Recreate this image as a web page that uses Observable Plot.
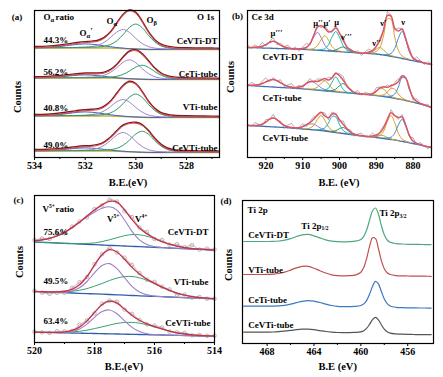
<!DOCTYPE html>
<html>
<head>
<meta charset="utf-8">
<script src="https://cdn.jsdelivr.net/npm/d3@7"></script>
<script src="https://cdn.jsdelivr.net/npm/@observablehq/plot@0.6"></script>
<style>
  html, body { margin: 0; padding: 0; background: #fff; }
  #fig { position: relative; width: 443px; height: 377px; overflow: hidden; background: #fff;
         font-family: "Liberation Serif", "Times New Roman", serif; font-weight: bold; color: #000; }
  .panel { position: absolute; }
  .panel svg { overflow: visible; display: block; }
  .lbl { position: absolute; white-space: nowrap; transform: translate(-50%, -50%); line-height: 1; }
  .rot { transform: translate(-50%, -50%) rotate(-90deg); }
</style>
</head>
<body>
<div id="fig"></div>
<script>
const FONT = '"Liberation Serif", "Times New Roman", serif';

/* ===== (a) O 1s ===== */
const aEV = [534, 533.5, 533, 532.5, 532.25, 532, 531.75, 531.5, 531.25, 531, 530.75, 530.5, 530.25, 530, 529.75, 529.5, 529.25, 529, 528.75, 528.5, 528, 527.5, 527, 526.7];
const aSamples = ["CeVTi-DT", "CeTi-tube", "VTi-tube", "CeVTi-tube"];
const aRatios = ["44.3%", "56.2%", "40.8%", "49.0%"];
const aTicks = [534, 532, 530, 528];
const aMinorTicks = [533, 531, 529, 527];
const aBackground = [1.6,1.6,1.6,1.6,1.6,1.6,1.6,1.55,1.5,1.4,1.25,1.0,0.7,0.45,0.25,0.12,0.05,0,0,0,0,0,0,0];
const oAlphaDT = [0.2,0.2,0.3,0.4,0.6,0.8,1.3,2.7,5.7,10.6,16.3,19,16.3,10.6,5.7,2.7,1.3,0.8,0.6,0.4,0.3,0.2,0.2,0.1];
const oBetaDT = [0.15,0.2,0.25,0.35,0.4,0.5,0.75,1.0,1.75,3.5,7.5,14,21.5,25,21.5,14,7.5,3.5,1.75,1.0,0.5,0.35,0.25,0.2];
const oAlphaPrimeDT = [0.05,0.35,1.36,3.0,3.7,4,3.7,3.0,2.2,1.36,0.7,0.35,0.15,0.05,0,0,0,0,0,0,0,0,0,0];
const oAlphaCeTi = [0.13,0.17,0.23,0.33,0.4,0.6,0.8,1.3,2.7,5.7,10.6,16.3,19,16.3,10.6,5.7,2.7,1.3,0.8,0.6,0.4,0.25,0.2,0.15];
const oBetaCeTi = [0.08,0.1,0.12,0.17,0.2,0.24,0.28,0.42,0.56,1.0,2.0,4.2,7.8,12,14,12,7.8,4.2,2.0,1.0,0.42,0.28,0.2,0.15];
const oAlphaPrimeCeTi = [0.04,0.26,1.0,2.25,2.8,3,2.8,2.25,1.65,1.0,0.5,0.26,0.1,0.04,0,0,0,0,0,0,0,0,0,0];
const oAlphaVTi = [0.14,0.17,0.24,0.34,0.5,0.7,1.2,2.4,5.1,9.5,14.6,17,14.6,9.5,5.1,2.4,1.2,0.7,0.5,0.34,0.24,0.17,0.14,0.12];
const oBetaVTi = [0.14,0.18,0.23,0.32,0.38,0.46,0.7,0.9,1.6,3.2,6.9,12.9,19.8,23,19.8,12.9,6.9,3.2,1.6,0.9,0.46,0.32,0.23,0.18];
const oAlphaPrimeVTi = [0.05,0.35,1.36,3.0,3.7,4,3.7,3.0,2.2,1.36,0.7,0.35,0.15,0.05,0,0,0,0,0,0,0,0,0,0];
const oAlphaCeVTi = [0.2,0.2,0.3,0.4,0.6,0.8,1.3,2.7,5.7,10.6,16.3,19,16.3,10.6,5.7,2.7,1.3,0.8,0.6,0.4,0.3,0.2,0.2,0.1];
const oBetaCeVTi = [0.12,0.15,0.19,0.25,0.3,0.36,0.42,0.63,0.84,1.5,2.9,6.3,11.8,18.1,21,18.1,11.8,6.3,2.9,1.5,0.63,0.42,0.3,0.25];
const oAlphaPrimeCeVTi = [0.04,0.26,1.0,2.25,2.8,3,2.8,2.25,1.65,1.0,0.5,0.26,0.1,0.04,0,0,0,0,0,0,0,0,0,0];

/* ===== (b) Ce 3d ===== */
const bEV = [925,924,923,922,921,920,919,918,917,916,915,914,913,912,911,910,909,908,907,906,905,904,903,902,901,900,899,898,897,896,895,894,893,892,891,890,889,888,887,886,885,884,883,882,881,880,879,878,877,876,875];
const bSamples = ["CeVTi-DT", "CeTi-tube", "CeVTi-tube"];
const bTicks = [920, 910, 900, 890, 880];
const bMinorTicks = [915, 905, 895, 885];
const bPeakNames = ["μ′′′", "μ′′", "μ′", "μ", "ν′′′", "ν′′", "ν′", "ν"];
const bBackgroundDT = [110,109.9,109.8,109.6,109.5,109.4,109.3,109.2,109.0,108.9,108.8,108.7,108.6,108.4,108.3,108.2,108.0,107.7,107.5,107.2,107.0,106.8,106.5,106.3,106.0,105.8,105.6,105.3,105.1,104.9,104.6,104.4,104.2,104.0,103.7,103.5,103.0,102.4,101.8,101.2,100.6,99.8,99.0,98.3,97.5,96.8,96.0,95.3,94.5,93.8,93.0];
const bBackgroundCeTi = [72.0,71.8,71.6,71.3,71.1,70.9,70.7,70.5,70.2,70.0,69.8,69.6,69.4,69.1,68.9,68.7,68.4,68.0,67.7,67.3,67.0,66.7,66.3,66.0,65.6,65.3,65.0,64.6,64.3,64.0,63.7,63.3,63.0,62.7,62.3,62.0,61.5,61.0,60.4,59.8,59.2,58.5,57.8,57.0,56.2,55.3,54.3,53.3,52.3,51.3,50.3];
const bBackgroundCeVTi = [32.0,31.8,31.6,31.4,31.2,31.0,30.8,30.6,30.4,30.2,30.0,29.7,29.4,29.1,28.8,28.5,28.2,27.9,27.6,27.3,27.0,26.5,26.0,25.5,25.0,24.5,24.0,23.5,23.0,22.5,22.0,21.6,21.2,20.8,20.4,20.0,19.5,19.0,18.5,18.0,17.5,16.8,16.1,15.4,14.7,14.0,13.2,12.4,11.6,10.8,10.0];
const ce3dDT = [
  {peak: "u3", from: 924, vals: [0.2,0.35,0.7,1.7,3.5,5.8,7,5.8,3.5,1.7,0.7,0.35,0.2]},
  {peak: "u2", from: 911, vals: [0.45,0.75,1.8,5.6,13,18,13,5.6,1.8,0.75,0.45]},
  {peak: "u1", from: 909, vals: [0.38,0.63,1.5,4.65,10.8,15,10.8,4.65,1.5,0.63,0.38]},
  {peak: "u0", from: 906, vals: [0.5,0.85,2,6.2,14.4,20,14.4,6.2,2,0.85,0.5]},
  {peak: "v3", from: 903, vals: [0.2,0.5,1.55,3.6,5,3.6,1.55,0.5,0.2]},
  {peak: "v2", from: 893, vals: [0.3,0.7,2.2,5,7,5,2.2,0.7,0.3]},
  {peak: "v1", from: 892, vals: [0.8,1.2,2.5,7.2,20,36.8,36.8,20,7.2,2.5,1.2,0.8]},
  {peak: "v0", from: 888, vals: [0.7,1.1,2.7,8.4,19.4,27,19.4,8.4,2.7,1.1,0.7]}
];
const ce3dCeTi = [
  {peak: "u3", from: 925, vals: [0.27,0.4,0.75,1.5,2.85,4.7,6.6,7.5,6.6,4.7,2.85,1.5,0.75,0.4,0.27]},
  {peak: "u2", from: 913, vals: [0.3,0.55,1.3,2.85,5.4,7.6,7.6,5.4,2.85,1.3,0.55,0.3]},
  {peak: "u1", from: 909, vals: [0.25,0.42,1.0,3.1,7.2,10,7.2,3.1,1.0,0.42,0.25]},
  {peak: "u0", from: 906, vals: [0.27,0.4,0.85,3.0,9.5,15,9.5,3.0,0.85,0.4,0.27]},
  {peak: "v3", from: 904, vals: [0.2,0.4,0.9,2.8,6.5,9,6.5,2.8,0.9,0.4,0.2]},
  {peak: "v2", from: 894, vals: [0.17,0.25,0.5,1.45,4,7.4,7.4,4,1.45,0.5,0.25,0.17]},
  {peak: "v1", from: 891, vals: [0.21,0.31,0.63,1.8,5,9.2,9.2,5,1.8,0.63,0.31,0.21]},
  {peak: "v0", from: 888, vals: [0.5,0.75,1.5,4.3,12,22,22,12,4.3,1.5,0.75,0.5]}
];
const ce3dCeVTi = [
  {peak: "u3", from: 924, vals: [0.27,0.45,0.9,2.2,4.5,7.5,9,7.5,4.5,2.2,0.9,0.45,0.27]},
  {peak: "u2", from: 913, vals: [0.24,0.42,0.96,2.1,4,5.7,5.7,4,2.1,0.96,0.42,0.24]},
  {peak: "u1", from: 910, vals: [0.38,0.63,1.5,4.65,10.8,15,10.8,4.65,1.5,0.63,0.38]},
  {peak: "u0", from: 907, vals: [0.36,0.53,1.1,3.1,8.5,15.6,15.6,8.5,3.1,1.1,0.53,0.36]},
  {peak: "v3", from: 904, vals: [0.15,0.25,0.6,1.9,4.3,6,4.3,1.9,0.6,0.25,0.15]},
  {peak: "v2", from: 893, vals: [0.09,0.19,0.54,1.5,2.8,2.8,1.5,0.54,0.19,0.09]},
  {peak: "v1", from: 891, vals: [0.6,1.0,2.4,7.4,17.3,24,17.3,7.4,2.4,1.0,0.6]},
  {peak: "v0", from: 888, vals: [0.55,0.92,2.2,6.8,15.8,22,15.8,6.8,2.2,0.92,0.55]}
];
const rawDevDT = [3,-1,2.5,0,4,-1.5,1,3.5,-2,2,0.5,3,-1,2,-2.5,1.5,4,-1,0.5,2.5,-2,3,1,-1.5,2.5,0,3.5,-2,1,-1,2,-2.5,1.5,3,-1,0.5,2.5,-1.5,4,1,-2,3,0.5,-1,2.5,-2,3.5,1,-1.5,2,0.5];
const rawDevCeTi = [-1,3,1,-2,2.5,4,-1.5,2,0,3,-2,1.5,3.5,-1,2,-2,0.5,3,-1.5,2.5,1,-2.5,3,0,-1,2,4,-2,1.5,-0.5,3,-1.5,2,0.5,-2,3.5,1,-1,2.5,-2,1.5,3,-1.5,0.5,2.5,-2.5,3,0,-1,2,-1.5];
const rawDevCeVTi = [2,-1.5,3,1,-2,2.5,0,3.5,-1,1.5,-2.5,2,4,-1,0.5,3,-2,1,2.5,-1.5,0,3,-2,2,1,-1.5,3.5,-0.5,2,-2,1.5,2.5,-1,0,3,-2,1,2,-1.5,3,0.5,-2,2.5,1,-1,3.5,-1.5,2,0,-2,1.5];

/* ===== (c) V 2p ===== */
const cEV = [520,519.75,519.5,519.25,519,518.75,518.5,518.25,518,517.75,517.5,517.25,517,516.75,516.5,516.25,516,515.75,515.5,515.25,515,514.75,514.5,514.25,514];
const cSamples = ["CeVTi-DT", "VTi-tube", "CeVTi-tube"];
const cRatios = ["75.6%", "49.5%", "63.4%"];
const cTicks = [520, 518, 516, 514];
const cMinorTicks = [519, 517, 515];
const v5DT = [1.3,2.4,4.3,7.0,10.9,15.9,21.6,27.5,32.8,36.7,38.5,35.6,26,15,6.8,2.4,0.7,0.15,0.05,0,0,0,0,0,0];
const v4DT = [0,0,0,0.02,0.05,0.15,0.4,0.9,1.8,3.4,5.5,8.0,10.3,11.7,11.9,10.7,8.5,6.0,3.8,2.1,1.0,0.45,0.17,0.05,0];
const cBackgroundDT = [100.5,100.2,99.8,99.5,99.2,98.8,98.5,98.2,97.8,97.5,97.2,96.8,96.5,96.2,95.8,95.5,95.2,94.8,94.5,94.2,93.8,93.5,93.2,92.8,92.5];
const v5VTi = [0,0,0.02,0.12,0.54,2.0,5.5,12.1,21.0,28.7,30.9,26.1,17.4,9.1,3.7,1.2,0.31,0.06,0,0,0,0,0,0,0];
const v4VTi = [0.03,0.08,0.19,0.44,0.91,1.7,3.0,5.0,7.7,10.7,14.0,16.7,18.5,19,18,15.7,12.7,9.5,6.6,4.2,2.5,1.3,0.67,0.31,0.13];
const cBackgroundVTi = [51.0,50.7,50.4,50.1,49.8,49.5,49.2,48.9,48.6,48.3,48.0,47.7,47.4,47.0,46.7,46.4,46.1,45.8,45.5,45.2,44.9,44.6,44.3,44.0,43.7];
const v5CeVTi = [0,0,0.02,0.09,0.42,1.5,4.2,9.3,16.2,22.2,23.9,20.2,13.4,7.0,2.9,0.94,0.24,0.05,0,0,0,0,0,0,0];
const v4CeVTi = [0.02,0.05,0.12,0.28,0.58,1.1,1.9,3.2,4.9,6.8,8.8,10.6,11.7,12,11.3,9.9,8.0,6.0,4.1,2.6,1.6,0.84,0.42,0.2,0.08];
const cBackgroundCeVTi = [10.3,10.1,10.0,9.8,9.6,9.5,9.3,9.1,9.0,8.8,8.6,8.5,8.3,8.1,8.0,7.8,7.6,7.5,7.3,7.1,7.0,6.8,6.6,6.5,6.3];
const cRawDevDT = [0.5,1.5,-0.5,2.0,-1.0,1.0,0.5,-1.5,1.0,-0.5,1.5,0.5,-1.5,2.5,0.5,2.0,-1.0,1.5,-0.5,2.0,0.5,3.5,-0.5,1.0,0.5];
const cRawDevVTi = [0.5,-1.0,-2.0,-1.0,-1.5,1.5,2.5,-0.5,1.0,0.5,1.5,-0.5,1.5,2.5,1.0,-0.5,1.5,0.5,1.0,-1.5,0.5,-1.0,0.5,-0.5,0];
const cRawDevCeVTi = [0.5,0,-0.5,1.0,0.5,-0.5,2.5,0.5,-1.0,1.0,0.5,1.5,-0.5,1.5,0.5,-0.5,1.0,1.5,-0.5,0.5,1.0,-0.5,0.5,0,0.5];

/* ===== (d) Ti 2p ===== */
const dEV = [470,469.5,469,468.5,468,467.5,467,466.5,466,465.5,465,464.5,464,463.5,463,462.5,462,461.5,461,460.5,460,459.75,459.5,459.25,459,458.75,458.5,458.25,458,457.75,457.5,457,456.5,456,455.5,455,454.5,454];
const dSamples = ["CeVTi-DT", "VTi-tube", "CeTi-tube", "CeVTi-tube"];
const dTicks = [468, 464, 460, 456];
const dMinorTicks = [466, 462, 458];
const ti2pDT = [102.0,102.0,102.0,102.0,102.0,102.1,102.5,103.3,104.9,107.0,108.7,109.1,107.7,105.6,103.6,102.4,101.8,101.7,101.9,102.3,104.1,107.2,113.7,123.6,132.8,135.5,129.3,117.9,108.7,103.5,101.2,99.9,99.5,99.2,99.1,99.1,98.9,98.9];
const ti2pVTi = [69.0,69.0,69.0,69.0,69.1,69.4,70.0,71.4,73.4,75.6,77.2,77.1,75.3,72.8,70.5,68.7,67.8,67.7,67.8,68.4,71.3,76.1,85.2,97.4,105.8,104.9,94.9,83.0,74.8,70.7,69.0,67.9,67.6,67.5,67.4,67.3,67.3,67.2];
const ti2pCeTi = [37.3,37.3,37.3,37.3,37.3,37.4,37.6,38.2,39.3,40.8,42.2,42.8,42.3,41.0,39.4,38.0,37.2,36.9,36.9,37.1,38.0,39.6,43.1,49.5,57.2,62.2,59.6,52.0,44.6,39.8,37.5,36.2,35.9,35.7,35.6,35.5,35.5,35.4];
const ti2pCeVTi = [11.3,11.3,11.3,11.3,11.4,11.5,11.8,12.4,13.1,13.9,14.4,14.4,13.8,12.9,12.0,11.4,11.0,10.9,10.9,11.1,11.7,12.8,15.3,19.3,23.9,26.1,23.6,18.7,14.4,11.7,10.4,9.6,9.3,9.1,9.0,8.9,8.9,8.8];

/* ===== helpers ===== */
const fig = document.getElementById("fig");
function place(node, left, top) {
  const d = document.createElement("div");
  d.className = "panel"; d.style.left = left + "px"; d.style.top = top + "px";
  d.appendChild(node); fig.appendChild(d);
}
function htmlLabel(text, cx, cy, size, rotate) {
  const d = document.createElement("div");
  d.className = "lbl" + (rotate ? " rot" : "");
  d.style.left = cx + "px"; d.style.top = cy + "px"; d.style.fontSize = size + "px";
  d.textContent = text; fig.appendChild(d);
}
const line = (xs, ys, opts) => Plot.line(xs.map((x, i) => ({x, y: ys[i]})), {x: "x", y: "y", curve: "catmull-rom", ...opts});
const txt = (x, y, text, opts = {}) => Plot.text([{x, y, text}], {x: "x", y: "y", text: "text", fontSize: 9, fontWeight: "bold", ...opts});
function panel({width, height, margin, xDomain, yDomain, ticks, minor, marks}) {
  return Plot.plot({
    width, height,
    marginTop: margin[0], marginRight: margin[1], marginBottom: margin[2], marginLeft: margin[3],
    x: {domain: xDomain},
    y: {domain: yDomain, axis: null},
    style: {fontFamily: FONT, fontSize: "10px", fontWeight: "bold", background: "transparent", overflow: "visible", color: "#000"},
    marks: [
      ...marks,
      Plot.frame({stroke: "#000", strokeWidth: 1.2}),
      Plot.axisX({ticks, tickSize: 3, tickPadding: 1, label: null, fontSize: 10, fontWeight: "bold", tickFormat: d => String(d)}),
      Plot.axisX({ticks: minor, tickSize: 2, tickFormat: () => "", label: null})
    ]
  });
}

/* ===== panel (a) ===== */
{
  const series = [
    {oa: oAlphaDT, ob: oBetaDT, oap: oAlphaPrimeDT},
    {oa: oAlphaCeTi, ob: oBetaCeTi, oap: oAlphaPrimeCeTi},
    {oa: oAlphaVTi, ob: oBetaVTi, oap: oAlphaPrimeVTi},
    {oa: oAlphaCeVTi, ob: oBetaCeVTi, oap: oAlphaPrimeCeVTi}
  ];
  const stack = [108, 78, 40, 5];
  const sampleY = [116, 83, 50, 9];
  const ratioY = [117, 85, 49, 12];
  const marks = [];
  series.forEach((s, k) => {
    const base = aBackground.map(b => stack[k] + b);
    const env = base.map((b, i) => b + s.oa[i] + s.ob[i] + s.oap[i]);
    marks.push(
      line(aEV, base, {stroke: "#c9b03a", strokeWidth: 1.5}),
      line(aEV, base.map((b, i) => b + s.oap[i]), {stroke: "#3e62c4", strokeWidth: 1}),
      line(aEV, base.map((b, i) => b + s.oa[i]), {stroke: "#a283c8", strokeWidth: 1}),
      line(aEV, base.map((b, i) => b + s.ob[i]), {stroke: "#2e9a66", strokeWidth: 1}),
      line(aEV, env, {stroke: "#7a2020", strokeWidth: 1.4, dy: -1}),
      line(aEV, env, {stroke: "#e0434c", strokeWidth: 1})
    );
    marks.push(txt(526.78, sampleY[k], aSamples[k], {textAnchor: "end"}));
    marks.push(txt(533.645, ratioY[k], aRatios[k], {textAnchor: "start"}));
  });
  marks.push(
    txt(533.645, 140, "O", {textAnchor: "start"}),
    txt(533.37, 140, "α", {textAnchor: "start", fontSize: 6.5, dy: 2.5}),
    txt(533.17, 140, "ratio", {textAnchor: "start"}),
    txt(530.88, 136, "O", {textAnchor: "end"}),
    txt(530.88, 136, "α", {textAnchor: "start", fontSize: 6.5, dy: 2.5}),
    txt(529.30, 137, "O", {textAnchor: "end"}),
    txt(529.30, 137, "β", {textAnchor: "start", fontSize: 6.5, dy: 2.5}),
    txt(531.95, 124, "O", {textAnchor: "end"}),
    txt(531.95, 124, "α", {textAnchor: "start", fontSize: 6.5, dy: 2.5}),
    txt(531.79, 124, "′", {textAnchor: "start", fontSize: 8, dy: -2}),
    txt(527.25, 140, "O 1s", {textAnchor: "middle"})
  );
  place(panel({width: 221, height: 190, margin: [10, 2, 33, 34], xDomain: [534, 526.7], yDomain: [0, 147], ticks: aTicks, minor: aMinorTicks, marks}), 0, 0);
}

/* ===== panel (b) ===== */
{
  const colors = {u3: "#8c7a36", u2: "#9f7bc6", u1: "#d6a21e", u0: "#1fb3b8", v3: "#2f8f6f", v2: "#c4a52a", v1: "#e09a28", v0: "#3a8fd0"};
  const series = [
    {bg: bBackgroundDT, comps: ce3dDT, dev: rawDevDT},
    {bg: bBackgroundCeTi, comps: ce3dCeTi, dev: rawDevCeTi},
    {bg: bBackgroundCeVTi, comps: ce3dCeVTi, dev: rawDevCeVTi}
  ];
  const sampleY = [100, 59, 19];
  const marks = [];
  series.forEach((s, k) => {
    const env = s.bg.slice();
    const compMarks = [];
    s.comps.forEach(c => {
      const xs = [], ys = [];
      c.vals.forEach((v, j) => {
        const ev = c.from - j;
        const i = bEV.indexOf(ev);
        if (i < 0) return;
        env[i] += v;
        xs.push(ev); ys.push(s.bg[i] + v);
      });
      compMarks.push(line(xs, ys, {stroke: colors[c.peak], strokeWidth: 1}));
    });
    const raw = env.map((e, i) => e + s.dev[i]);
    marks.push(
      line(bEV, s.bg, {stroke: "#4470b0", strokeWidth: 1.3}),
      ...compMarks,
      line(bEV, raw, {stroke: "#8f8f8f", strokeWidth: 0.7, curve: "linear"}),
      line(bEV, env, {stroke: "#e05565", strokeWidth: 1.5}),
      txt(920.9, sampleY[k], bSamples[k], {textAnchor: "start"})
    );
  });
  const peakLabelX = [917.1, 905.8, 903.4, 900.8, 898.1, 889.9, 888.1, 882.7];
  const peakLabelY = [124, 134, 134, 135.7, 120.7, 114, 134, 135.7];
  bPeakNames.forEach((n, j) => marks.push(txt(peakLabelX[j], peakLabelY[j], n, {textAnchor: "middle", fontSize: 8.5})));
  marks.push(txt(923.9, 140.7, "Ce 3d", {textAnchor: "start"}));
  place(panel({width: 222, height: 190, margin: [10, 12, 33, 26], xDomain: [925, 875], yDomain: [0, 147], ticks: bTicks, minor: bMinorTicks, marks}), 221, 0);
}

/* ===== panel (c) ===== */
{
  const series = [
    {bg: cBackgroundDT, v5: v5DT, v4: v4DT, dev: cRawDevDT},
    {bg: cBackgroundVTi, v5: v5VTi, v4: v4VTi, dev: cRawDevVTi},
    {bg: cBackgroundCeVTi, v5: v5CeVTi, v4: v4CeVTi, dev: cRawDevCeVTi}
  ];
  const sampleY = [110.3, 60.3, 19.3];
  const sampleX = [514.2, 514.2, 514.13];
  const ratioY = [110.3, 61.3, 21];
  const marks = [];
  series.forEach((s, k) => {
    const env = s.bg.map((b, i) => b + s.v5[i] + s.v4[i]);
    const raw = env.map((e, i) => e + s.dev[i]);
    marks.push(
      line(cEV, s.bg, {stroke: "#2f5fa8", strokeWidth: 1.3}),
      line(cEV, s.bg.map((b, i) => b + s.v4[i]), {stroke: "#3aa070", strokeWidth: 1}),
      line(cEV, s.bg.map((b, i) => b + s.v5[i]), {stroke: "#9a80c4", strokeWidth: 1.1}),
      line(cEV, raw, {stroke: "#a89a9a", strokeWidth: 0.7}),
      Plot.dot(cEV.map((x, i) => ({x, y: raw[i]})), {x: "x", y: "y", r: 1.8, stroke: "#a89a9a", strokeWidth: 0.7, fill: "none"}),
      line(cEV, env, {stroke: "#c8304a", strokeWidth: 1.3}),
      txt(sampleX[k], sampleY[k], cSamples[k], {textAnchor: "end"}),
      txt(519.7, ratioY[k], cRatios[k], {textAnchor: "start"})
    );
  });
  marks.push(
    txt(519.733, 133.7, "V", {textAnchor: "start"}),
    txt(519.52, 133.7, "5+", {textAnchor: "start", fontSize: 5.5, dy: -3}),
    txt(519.30, 133.7, "ratio", {textAnchor: "start"}),
    txt(517.367, 123.7, "V", {textAnchor: "end"}),
    txt(517.367, 123.7, "5+", {textAnchor: "start", fontSize: 5.5, dy: -3}),
    txt(516.433, 123.7, "V", {textAnchor: "end"}),
    txt(516.433, 123.7, "4+", {textAnchor: "start", fontSize: 5.5, dy: -3})
  );
  place(panel({width: 221, height: 189, margin: [7, 7, 35, 34], xDomain: [520, 514], yDomain: [0, 147], ticks: cTicks, minor: cMinorTicks, marks}), 0, 188);
}

/* ===== panel (d) ===== */
{
  const series = [ti2pDT, ti2pVTi, ti2pCeTi, ti2pCeVTi];
  const colors = ["#4fa87f", "#c0504d", "#3d79c0", "#555555"];
  const sampleY = [108, 73, 43, 18.7];
  const marks = [];
  series.forEach((s, k) => {
    marks.push(
      line(dEV, s, {stroke: colors[k], strokeWidth: 1.2}),
      txt(469.61, sampleY[k], dSamples[k], {textAnchor: "start"})
    );
  });
  marks.push(
    txt(469.67, 133, "Ti 2p", {textAnchor: "start"}),
    txt(463.36, 117.3, "Ti 2p", {textAnchor: "end"}),
    txt(463.36, 117.3, "1/2", {textAnchor: "start", fontSize: 5.5, dy: 2.5}),
    txt(456.70, 130, "Ti 2p", {textAnchor: "end"}),
    txt(456.70, 130, "3/2", {textAnchor: "start", fontSize: 5.5, dy: 2.5})
  );
  place(panel({width: 222, height: 189, margin: [12, 10, 34, 21], xDomain: [470.1, 453.8], yDomain: [0, 143], ticks: dTicks, minor: dMinorTicks, marks}), 221, 188);
}

/* ===== outer labels ===== */
htmlLabel("(a)", 17, 17, 9);
htmlLabel("(b)", 237.5, 15.5, 9);
htmlLabel("(c)", 18.5, 200, 9);
htmlLabel("(d)", 226, 200.5, 9);
htmlLabel("B.E.(eV)", 128, 182.7, 10.5);
htmlLabel("B.E. (eV)", 339, 182.7, 10.5);
htmlLabel("B.E.(eV)", 124, 367.3, 10.5);
htmlLabel("B.E (eV)", 337.7, 366.7, 10.5);
htmlLabel("Counts", 18.3, 96.7, 10.5, true);
htmlLabel("Counts", 231, 76.7, 10.5, true);
htmlLabel("Counts", 20, 261.7, 10.5, true);
htmlLabel("Counts", 229.3, 265, 10.5, true);
</script>
</body>
</html>
